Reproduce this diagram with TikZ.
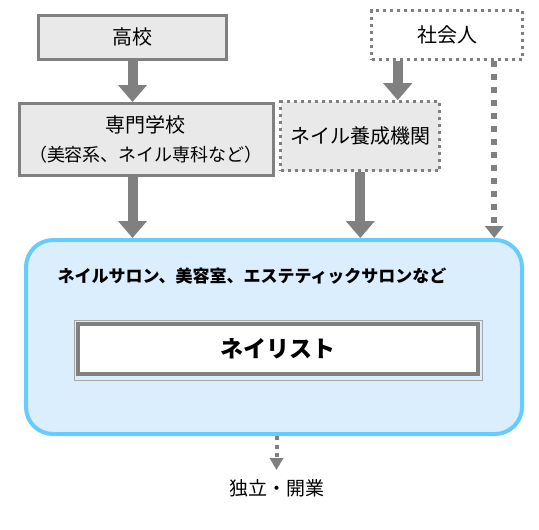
\documentclass[tikz,border=0pt]{standalone}
\usepackage{fontspec}
\setmainfont{Noto Sans CJK JP}
\usetikzlibrary{arrows.meta}

\begin{document}
\begin{tikzpicture}[x=1pt,y=-1pt,
  box/.style={draw=framegray, fill=boxfill, line width=3pt, inner sep=0pt,
    align=center, font=\fontsize{20}{29}\selectfont},
  dotbox/.style={box, dash pattern=on 3pt off 4pt},
  bigarrow/.style={draw=framegray, line width=10pt,
    -{Triangle[width=28pt,length=17pt]}},
  dotarrow/.style={draw=framegray, line width=6pt, dash pattern=on 6pt off 7pt,
    -{Triangle[width=18pt,length=12pt]}},
  thinarrow/.style={draw=framegray, line width=4pt, dash pattern=on 4pt off 4.5pt,
    -{Triangle[width=13pt,length=12pt]}}]

% Colors
\definecolor{framegray}{RGB}{128,128,128}
\definecolor{boxfill}{RGB}{233,233,233}
\definecolor{salonblue}{RGB}{102,204,255}
\definecolor{salonfill}{RGB}{219,238,254}

\useasboundingbox (0,0) rectangle (539,530);

% Routes
\node[box, minimum width=188pt, minimum height=44.5pt] (koukou) at (132.5,37.3) {高校};
\node[box, minimum width=254pt, minimum height=72pt] (senmon) at (146,139.5)
  {専門学校\\{\fontsize{18}{29}\selectfont （美容系、ネイル専科など）}};
\node[dotbox, minimum width=159pt, minimum height=69pt] (yousei) at (360.3,136.2) {ネイル養成機関};
\node[dotbox, fill=white, minimum width=151pt, minimum height=48.6pt] (shakai) at (447.2,35) {社会人};

% Workplace
\node[draw=salonblue, fill=salonfill, line width=4pt, rounded corners=27pt,
  minimum width=496pt, minimum height=194pt] (salon) at (274,337) {};
\node[anchor=west, font=\bfseries\fontsize{17}{20}\selectfont] (salonlabel) at (54,276)
  {ネイルサロン、美容室、エステティックサロンなど};
\node[draw=framegray, fill=white, line width=4pt, minimum width=400pt, minimum height=50pt,
  font=\bfseries\fontsize{23}{26}\selectfont] (nailist) at (277.5,349) {ネイリスト};
\draw[draw=framegray!70, line width=0.8pt] ([shift={(-1.5,-2)}]nailist.north west)
  rectangle ([shift={(2.5,4)}]nailist.south east);

\node[font=\fontsize{19}{22}\selectfont, inner sep=0pt] (dokuritsu) at (276.5,488) {独立・開業};

% Arrows
\draw[bigarrow] (koukou.south) -- (koukou.south |- senmon.north);
\draw[bigarrow] (koukou.south |- senmon.south) -- (koukou.south |- salon.north);
\draw[bigarrow] ([xshift=-49.5pt]shakai.south) -- ([xshift=-49.5pt]shakai.south |- yousei.north);
\draw[bigarrow] (yousei.south) -- (yousei.south |- salon.north);
\draw[dotarrow] ([xshift=47pt]shakai.south) -- ([xshift=47pt]shakai.south |- salon.north);
\draw[thinarrow, shorten >=9pt] (dokuritsu.north |- salon.south) -- (dokuritsu.north);

\end{tikzpicture}
\end{document}
